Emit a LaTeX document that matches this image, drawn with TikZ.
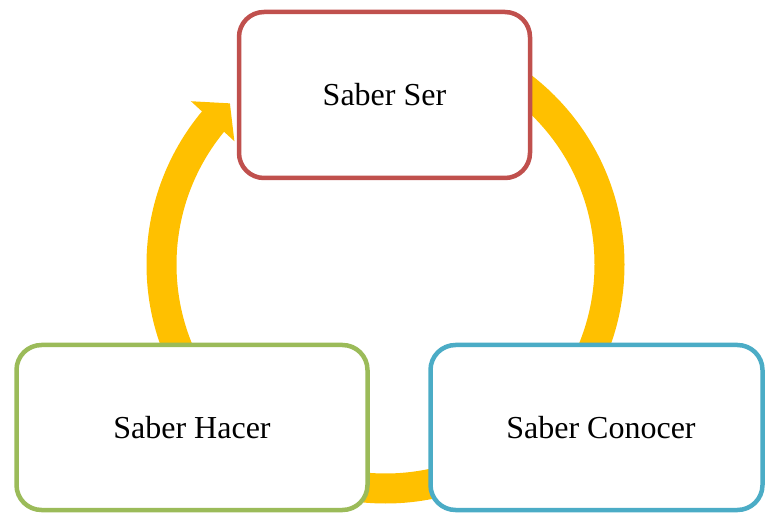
\documentclass[tikz,border=0pt]{standalone}
\usepackage{fontspec}
\setmainfont{Liberation Serif}
\usetikzlibrary{calc}
\definecolor{cyc}{HTML}{FFC000}
\definecolor{cred}{HTML}{C0504D}
\definecolor{cgreen}{HTML}{9BBB59}
\definecolor{cblue}{HTML}{4BACC6}
\begin{document}
\begin{tikzpicture}[x=1pt,y=1pt,
  box/.style={draw, line width=4.5pt, rounded corners=25pt, fill=white, inner sep=0pt,
    font=\fontsize{32}{38}\selectfont}]
\useasboundingbox (0,0) rectangle (765,514);
\coordinate (c) at (385.5,249.5);
% ring
\draw[cyc, line width=30pt] ($(c)+(90:224)$) arc[start angle=90, end angle=-220, radius=224pt];
\fill[cyc] ($(c)+(140:254)$) -- ($(c)+(134:224)$) -- ($(c)+(140.8:195)$) -- cycle;
% boxes
\node[box, draw=cred, minimum width=291pt, minimum height=166pt] (ser) at (384.5,419) {Saber Ser};
\node[box, draw=cgreen, minimum width=351pt, minimum height=165pt] (hacer) at (192,86.5) {Saber Hacer};
\node[box, draw=cblue, minimum width=332pt, minimum height=165pt] (conocer) at (596.5,86.5) {\hspace*{9pt}Saber Conocer};
\end{tikzpicture}
\end{document}
